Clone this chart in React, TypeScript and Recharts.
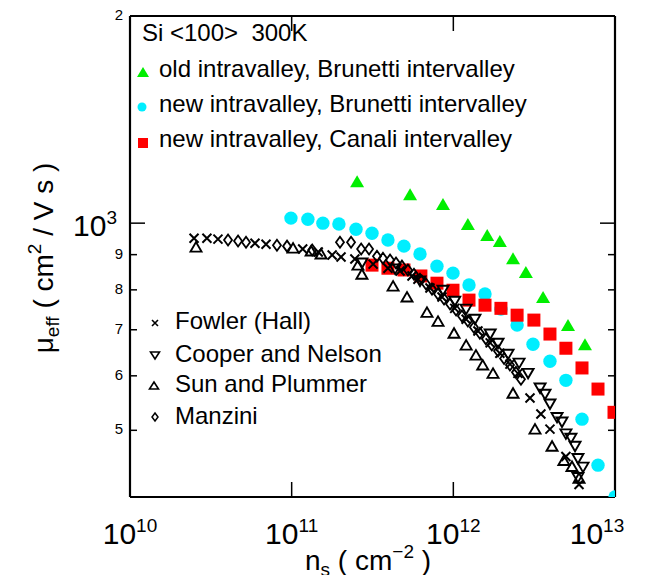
import React from "react";
import { ScatterChart, Scatter, XAxis, YAxis } from "recharts";

const FONT = "'Liberation Sans', Arial, Helvetica, sans-serif";

const X_TICKS = [1e10, 1e11, 1e12, 1e13];
const X_EXP = ["10", "11", "12", "13"];
const Y_TICKS = [500, 600, 700, 800, 900, 1000, 2000];

// [n_s (cm^-2), mu_eff (cm^2 / V s)]
const OLD_BRUNETTI: [number, number][] = [
  [2.54e11, 1151], [5.4e11, 1102], [8.63e11, 1066], [1.23e12, 997], [1.62e12, 961],
  [1.94e12, 942], [2.34e12, 889], [2.81e12, 849], [3.59e12, 781], [5.12e12, 711],
  [6.52e12, 667],
];

const NEW_BRUNETTI: [number, number][] = [
  [9.9e10, 1017], [1.26e11, 1013], [1.56e11, 1000], [1.96e11, 997], [2.5e11, 980],
  [3.14e11, 967], [3.94e11, 945], [4.95e11, 926], [6.22e11, 902], [7.92e11, 866],
  [9.95e11, 846], [1.25e12, 813], [1.57e12, 789], [1.97e12, 750], [2.48e12, 711],
  [3.11e12, 667], [3.96e12, 630], [4.97e12, 591], [6.25e12, 519], [7.85e12, 445],
  [1e13, 400],
];

const NEW_CANALI: [number, number][] = [
  [3.14e11, 869], [3.94e11, 860], [4.95e11, 855], [6.3e11, 838], [7.92e11, 818],
  [9.95e11, 799], [1.25e12, 773], [1.57e12, 760], [1.97e12, 752], [2.48e12, 735],
  [3.15e12, 723], [3.96e12, 690], [4.97e12, 658], [6.25e12, 616], [7.85e12, 574],
  [9.86e12, 531],
];

const FOWLER: [number, number][] = [
  [2.49e10, 951], [2.99e10, 951], [3.5e10, 948], [5.93e10, 935], [6.94e10, 932],
  [1.17e11, 917], [1.46e11, 908], [1.78e11, 899], [2.02e11, 893], [2.46e11, 887],
  [3.19e11, 872], [3.94e11, 860], [4.68e11, 852], [5.55e11, 838], [6.04e11, 829],
  [7.17e11, 805], [8.51e11, 781], [1.02e12, 752], [1.2e12, 725], [1.42e12, 697],
  [1.69e12, 670], [1.94e12, 647], [2.24e12, 624], [2.51e12, 605], [2.98e12, 557],
  [3.48e12, 528], [3.96e12, 502], [4.97e12, 458], [5.99e12, 417],
];

const COOPER: [number, number][] = [
  [2.72e11, 875], [4.36e11, 858], [6.22e11, 824], [8.63e11, 799], [1.02e12, 770],
  [1.2e12, 750], [1.36e12, 725], [1.69e12, 690], [1.89e12, 669], [2.18e12, 645],
  [2.55e12, 626], [2.9e12, 605], [3.44e12, 576], [3.69e12, 564], [3.96e12, 546],
  [4.38e12, 522], [4.7e12, 514], [4.97e12, 494], [5.34e12, 487], [5.66e12, 474],
  [5.9e12, 455], [6.34e12, 442], [5.9e12, 427],
];

const SUN: [number, number][] = [
  [2.56e10, 923], [1.02e11, 920], [1.32e11, 911], [1.52e11, 902], [2.57e11, 869],
  [2.72e11, 843], [4.24e11, 810], [5.17e11, 781], [6.87e11, 742], [8.04e11, 720],
  [1.01e12, 692], [1.2e12, 665], [1.38e12, 643], [1.52e12, 622], [1.76e12, 605],
  [2.34e12, 566], [3.2e12, 502], [4.08e12, 474], [4.83e12, 452], [5.42e12, 443],
  [5.99e12, 426],
];

const MANZINI: [number, number][] = [
  [4.04e10, 945], [4.66e10, 942], [5.22e10, 938], [8.11e10, 929], [9.36e10, 926],
  [1.34e11, 914], [1.99e11, 938], [2.33e11, 938], [2.69e11, 917], [3.01e11, 917],
  [3.37e11, 895], [3.67e11, 889], [4.06e11, 884], [4.42e11, 875], [4.81e11, 866],
  [5.24e11, 855], [5.71e11, 843], [6.22e11, 829], [6.78e11, 816], [7.38e11, 802],
  [8.04e11, 789], [8.76e11, 776], [9.54e11, 763], [1.04e12, 748], [1.13e12, 733],
  [1.23e12, 721], [1.34e12, 706], [1.46e12, 692], [1.59e12, 679], [1.73e12, 665],
  [1.89e12, 652], [2.06e12, 636], [2.24e12, 622], [2.44e12, 607], [2.62e12, 593],
];

const GREEN = "#00ee00";
const CYAN = "#00eeff";
const RED = "#ff0000";

const pts = (a: [number, number][]) => a.map(([x, y]) => ({ x, y }));

// ---------- marker shapes ----------

function GreenTri({ cx, cy }: any) {
  return <path d={`M${cx - 7},${cy + 6}L${cx + 7},${cy + 6}L${cx},${cy - 6}Z`} fill={GREEN} />;
}
function CyanDot({ cx, cy }: any) {
  return <circle cx={cx} cy={cy} r={6.7} fill={CYAN} />;
}
function RedSquare({ cx, cy }: any) {
  return <rect x={cx - 6.5} y={cy - 6.5} width={13} height={13} fill={RED} />;
}
function OpenUp({ cx, cy }: any) {
  return <path d={`M${cx - 5.5},${cy + 4.5}L${cx + 5.5},${cy + 4.5}L${cx},${cy - 5}Z`} fill="none" stroke="#000" strokeWidth={1.9} />;
}
function OpenDown({ cx, cy }: any) {
  return <path d={`M${cx - 5.5},${cy - 4.5}L${cx + 5.5},${cy - 4.5}L${cx},${cy + 5}Z`} fill="none" stroke="#000" strokeWidth={1.9} />;
}
function Cross({ cx, cy }: any) {
  return <path d={`M${cx - 4.5},${cy - 4.5}L${cx + 4.5},${cy + 4.5}M${cx - 4.5},${cy + 4.5}L${cx + 4.5},${cy - 4.5}`} stroke="#000" strokeWidth={2} />;
}
function Diamond({ cx, cy }: any) {
  return <path d={`M${cx},${cy - 5.5}L${cx + 4},${cy}L${cx},${cy + 5.5}L${cx - 4},${cy}Z`} fill="none" stroke="#000" strokeWidth={1.8} />;
}

// ---------- axis ticks (drawn inward) ----------

function BottomTick({ x, y, payload, index }: any) {
  const v = payload.value;
  const inner = v > 1e10 && v < 1e13;
  return (
    <g>
      {inner && <line x1={x} x2={x} y1={y} y2={y - 15} stroke="#000" strokeWidth={1.5} />}
      <text x={x} y={y + 47} textAnchor="middle" fontFamily={FONT} fontSize={30} fill="#000">
        10
        <tspan dy={-12} fontSize={19}>{X_EXP[index]}</tspan>
      </text>
    </g>
  );
}

function TopTick({ x, y, payload }: any) {
  const v = payload.value;
  if (!(v > 1e10 && v < 1e13)) return null;
  return <line x1={x} x2={x} y1={y} y2={y + 15} stroke="#000" strokeWidth={1.5} />;
}

function LeftTick({ x, y, payload }: any) {
  const v = payload.value;
  if (v === 1000) {
    return (
      <g>
        <line x1={x} x2={x + 15} y1={y} y2={y} stroke="#000" strokeWidth={1.5} />
        <text x={x - 13} y={y + 13} textAnchor="end" fontFamily={FONT} fontSize={30} fill="#000">
          10
          <tspan dy={-12} fontSize={19}>3</tspan>
        </text>
      </g>
    );
  }
  return (
    <g>
      {v < 1000 && <line x1={x} x2={x + 7} y1={y} y2={y} stroke="#000" strokeWidth={1.5} />}
      <text x={x - 7} y={y + 4} textAnchor="end" fontFamily={FONT} fontSize={15} fill="#000">
        {v >= 2000 ? v / 1000 : v / 100}
      </text>
    </g>
  );
}

function RightTick({ x, y, payload }: any) {
  const v = payload.value;
  if (v >= 2000) return null;
  const len = v === 1000 ? 15 : 7;
  return <line x1={x} x2={x - len} y1={y} y2={y} stroke="#000" strokeWidth={1.5} />;
}

// ---------- legends / titles ----------

function Overlay() {
  const t = { fontFamily: FONT, fill: "#000" } as const;
  return (
    <svg width={653} height={583} style={{ position: "absolute", left: 0, top: 0, pointerEvents: "none" }}>
      {/* title line cut off at the top edge, as in the source figure */}
      <text x={353} y={4} fontSize={20} {...t}>||</text>
      <text x={386} y={7} fontSize={26} {...t}>0</text>

      <text x={142} y={41} fontSize={24} {...t} xmlSpace="preserve">Si &lt;100&gt;  300K</text>

      <path d="M137,77L149,77L143,67Z" fill={GREEN} />
      <text x={159} y={77} fontSize={24} {...t}>old intravalley, Brunetti intervalley</text>
      <circle cx={142} cy={107} r={4.5} fill={CYAN} />
      <text x={159} y={112} fontSize={24} {...t}>new intravalley, Brunetti intervalley</text>
      <rect x={138} y={138} width={10} height={10} fill={RED} />
      <text x={159} y={147} fontSize={24} {...t}>new intravalley, Canali intervalley</text>

      <path d="M152,320L158,326M152,326L158,320" stroke="#000" strokeWidth={1.6} />
      <text x={175} y={329} fontSize={24} {...t}>Fowler (Hall)</text>
      <path d="M150.5,352L159.5,352L155,359Z" fill="none" stroke="#000" strokeWidth={1.6} />
      <text x={175} y={362} fontSize={24} {...t}>Cooper and Nelson</text>
      <path d="M149.5,389L158.5,389L154,382Z" fill="none" stroke="#000" strokeWidth={1.6} />
      <text x={175} y={392} fontSize={24} {...t}>Sun and Plummer</text>
      <path d="M155,413L158,417L155,421L152,417Z" fill="none" stroke="#000" strokeWidth={1.5} />
      <text x={175} y={424} fontSize={24} {...t}>Manzini</text>

      <text x={305} y={570} fontSize={28} {...t}>
        n<tspan dy={6} fontSize={19}>s</tspan>
        <tspan dy={-6} xmlSpace="preserve"> ( cm</tspan>
        <tspan dy={-12} fontSize={19}>−2</tspan>
        <tspan dy={12} xmlSpace="preserve"> )</tspan>
      </text>

      <text transform="translate(53,258) rotate(-90)" textAnchor="middle" fontSize={28} {...t}>
        μ<tspan dy={6} fontSize={19}>eff</tspan>
        <tspan dy={-6} xmlSpace="preserve"> ( cm</tspan>
        <tspan dy={-12} fontSize={19}>2</tspan>
        <tspan dy={12} xmlSpace="preserve"> / V s )</tspan>
      </text>
    </svg>
  );
}

const axisLine = { stroke: "#000", strokeWidth: 2.2 };

export default function App() {
  return (
    <div style={{ position: "relative", width: 653, height: 583, margin: -8, background: "#fff" }}>
      <ScatterChart width={653} height={583} margin={{ top: 6, right: 8, bottom: 56, left: 100 }}>
        <XAxis
          xAxisId="b"
          dataKey="x"
          type="number"
          scale="log"
          domain={[1e10, 1e13]}
          ticks={X_TICKS}
          allowDataOverflow
          height={30}
          tickSize={0}
          tickMargin={0}
          tickLine={false}
          tick={<BottomTick />}
          axisLine={axisLine}
        />
        <XAxis
          xAxisId="t"
          orientation="top"
          dataKey="x"
          type="number"
          scale="log"
          domain={[1e10, 1e13]}
          ticks={X_TICKS}
          allowDataOverflow
          height={10}
          tickSize={0}
          tickMargin={0}
          tickLine={false}
          tick={<TopTick />}
          axisLine={axisLine}
        />
        <YAxis
          yAxisId="l"
          dataKey="y"
          type="number"
          scale="log"
          domain={[400, 2000]}
          ticks={Y_TICKS}
          allowDataOverflow
          width={30}
          tickSize={0}
          tickMargin={0}
          tickLine={false}
          tick={<LeftTick />}
          axisLine={axisLine}
        />
        <YAxis
          yAxisId="r"
          orientation="right"
          dataKey="y"
          type="number"
          scale="log"
          domain={[400, 2000]}
          ticks={Y_TICKS}
          allowDataOverflow
          width={30}
          tickSize={0}
          tickMargin={0}
          tickLine={false}
          tick={<RightTick />}
          axisLine={axisLine}
        />
        <Scatter xAxisId="b" yAxisId="l" data={pts(NEW_BRUNETTI)} shape={<CyanDot />} isAnimationActive={false} />
        <Scatter xAxisId="b" yAxisId="l" data={pts(NEW_CANALI)} shape={<RedSquare />} isAnimationActive={false} />
        <Scatter xAxisId="b" yAxisId="l" data={pts(OLD_BRUNETTI)} shape={<GreenTri />} isAnimationActive={false} />
        <Scatter xAxisId="b" yAxisId="l" data={pts(SUN)} shape={<OpenUp />} isAnimationActive={false} />
        <Scatter xAxisId="b" yAxisId="l" data={pts(COOPER)} shape={<OpenDown />} isAnimationActive={false} />
        <Scatter xAxisId="b" yAxisId="l" data={pts(MANZINI)} shape={<Diamond />} isAnimationActive={false} />
        <Scatter xAxisId="t" yAxisId="r" data={pts(FOWLER)} shape={<Cross />} isAnimationActive={false} />
      </ScatterChart>
      <Overlay />
    </div>
  );
}
